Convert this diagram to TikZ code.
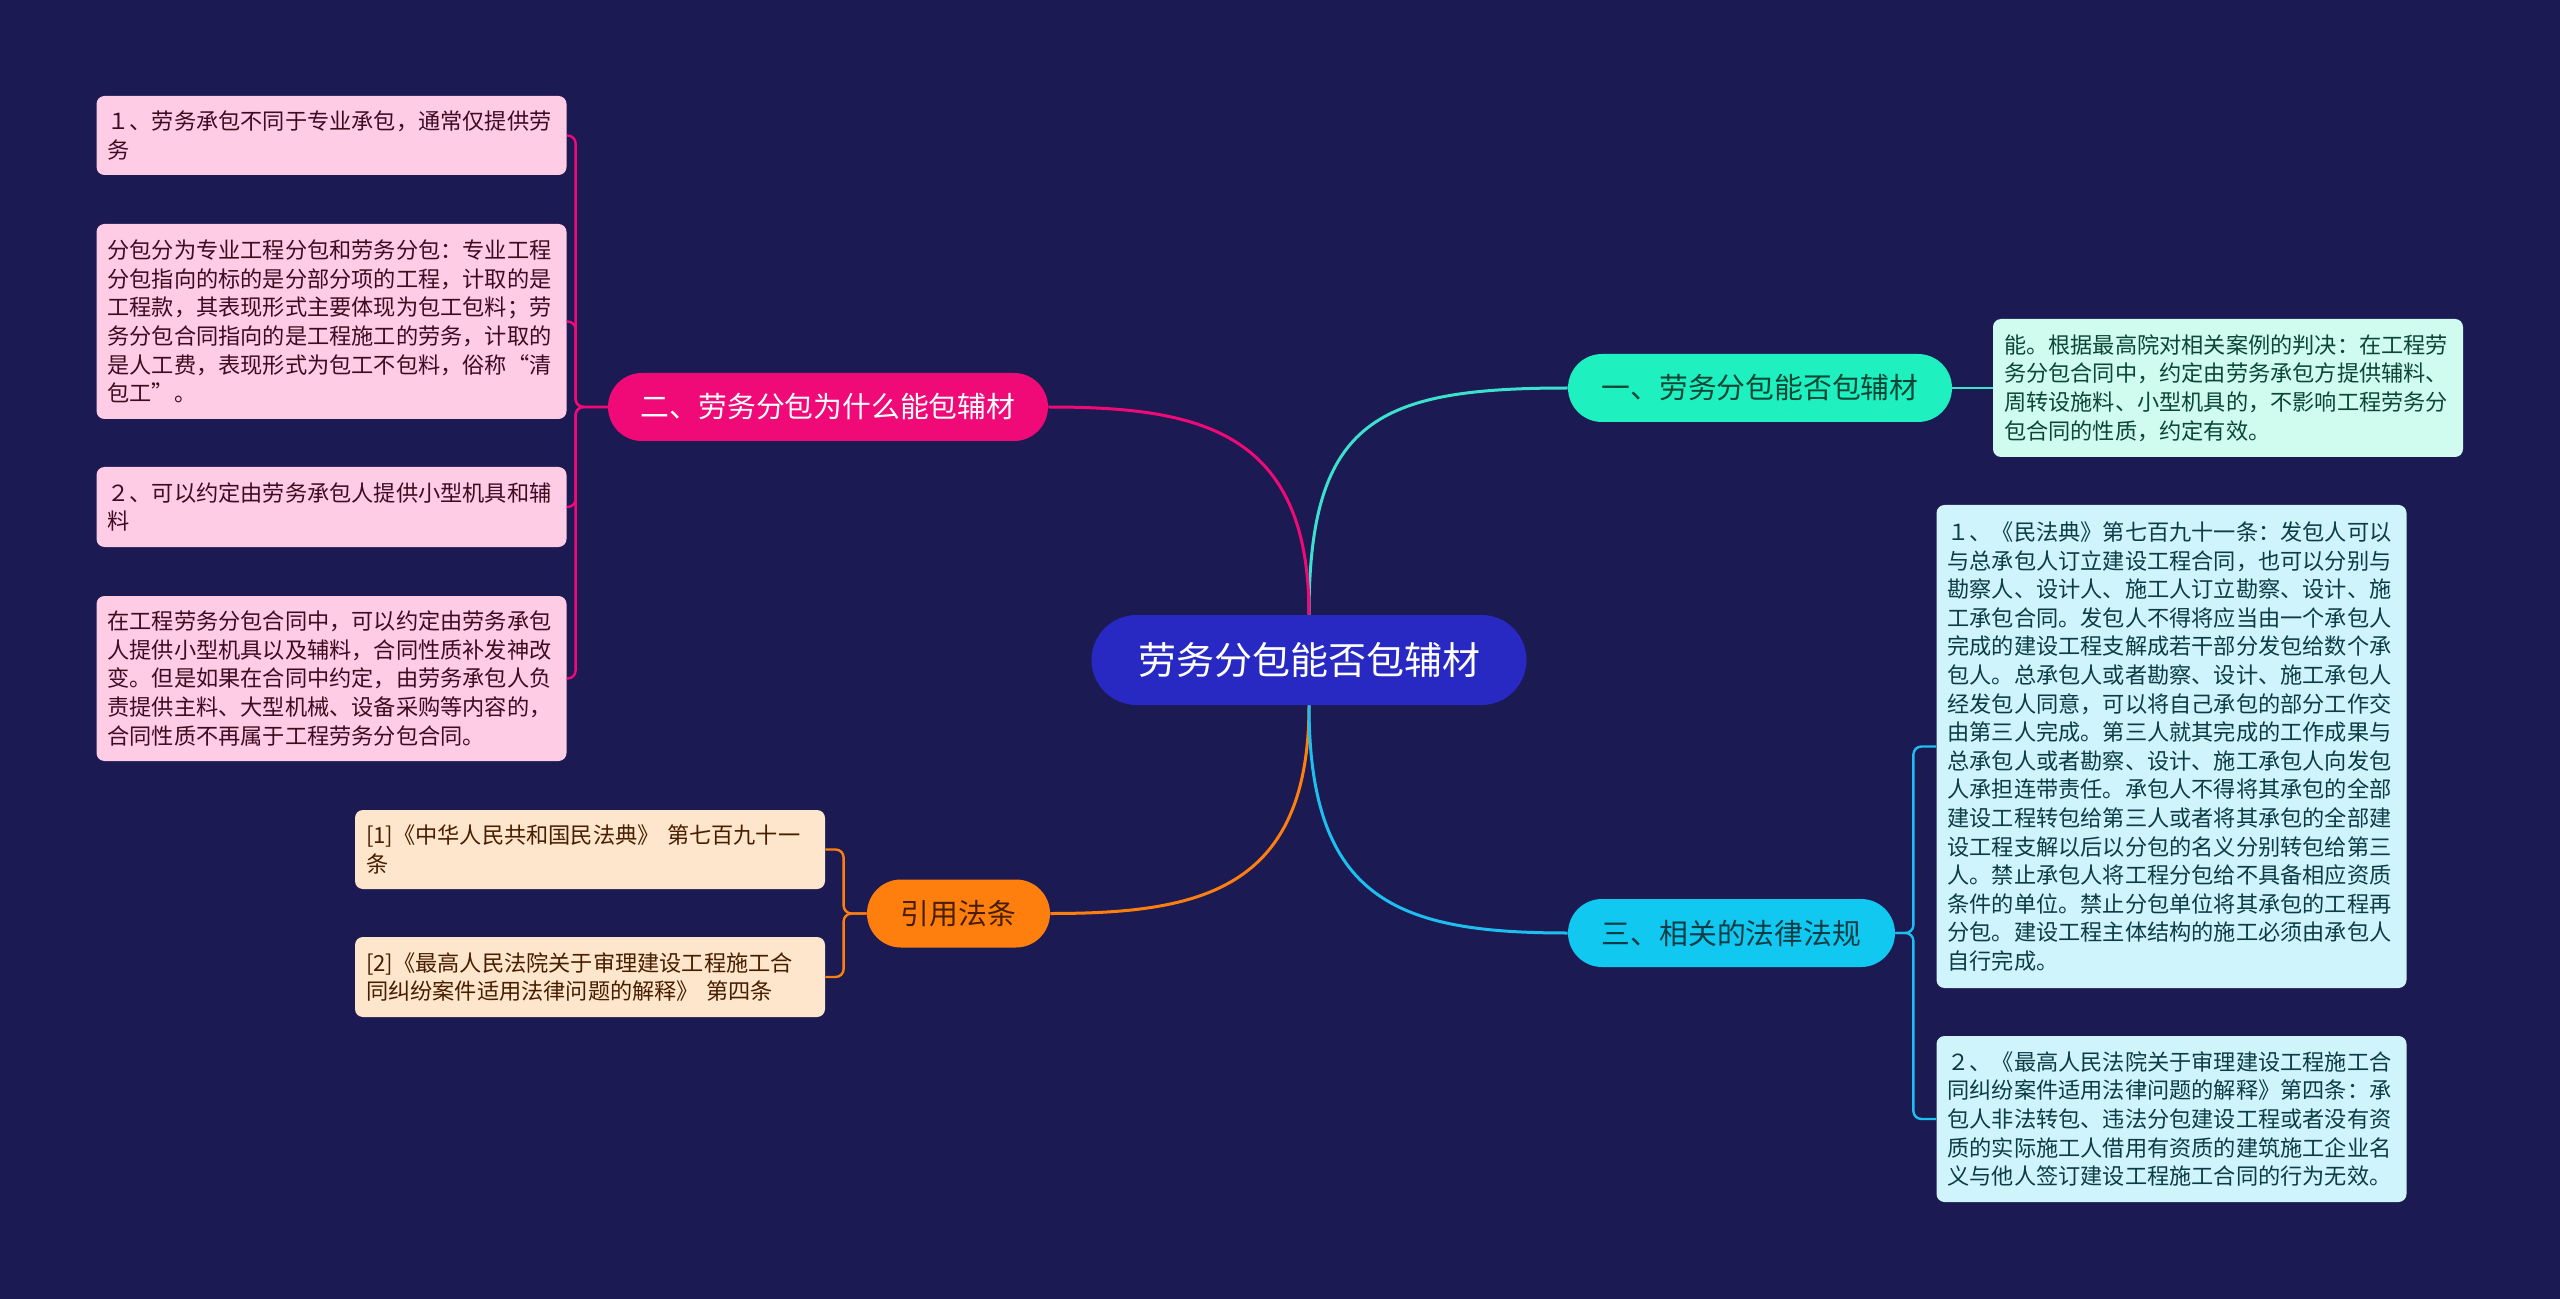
\documentclass[tikz,border=0pt]{standalone}
\usepackage{fontspec}
\setmainfont{Noto Sans CJK SC}
\definecolor{bgc}{RGB}{28,26,82}
\definecolor{rootc}{RGB}{40,40,195}
\definecolor{tealc}{RGB}{30,240,192}
\definecolor{tealleaf}{RGB}{208,252,240}
\definecolor{tealtext}{RGB}{12,70,52}
\definecolor{teallink}{RGB}{60,225,205}
\definecolor{pinkc}{RGB}{240,10,120}
\definecolor{pinkleaf}{RGB}{255,204,229}
\definecolor{pinktext}{RGB}{62,12,32}
\definecolor{cyanc}{RGB}{16,200,240}
\definecolor{cyanleaf}{RGB}{208,244,252}
\definecolor{cyantext}{RGB}{12,60,70}
\definecolor{cyanlink}{RGB}{30,190,240}
\definecolor{orangec}{RGB}{255,127,14}
\definecolor{orangeleaf}{RGB}{253,230,204}
\definecolor{orangetext}{RGB}{72,30,0}
\begin{document}
\begin{tikzpicture}[x=0.5pt,y=-0.5pt,
  rootbox/.style={fill=rootc, text=white, rounded corners=22.5pt, minimum width=217.5pt, minimum height=45pt, inner sep=0pt, font=\fontsize{19pt}{22pt}\selectfont},
  branchbox/.style={rounded corners=17pt, minimum height=34pt, inner sep=0pt, font=\fontsize{14.4pt}{17pt}\selectfont},
  leafbox/.style={rounded corners=4pt, text width=224pt, align=left, inner xsep=5.5pt, inner ysep=0pt, font=\fontsize{11.1pt}{14.3pt}\selectfont},
  mainlink/.style={line width=1.5pt},
  leaflink/.style={line width=1.2pt, rounded corners=4pt}
]
\fill[bgc] (0,0) rectangle (2560,1299);
\useasboundingbox (0,0) rectangle (2560,1299);

% central
\node[rootbox] (c) at (1309,660) {劳务分包能否包辅材};

% branches
\node[branchbox, fill=tealc, text=tealtext, minimum width=192pt] (b1) at (1760,388) {一、劳务分包能否包辅材};
\node[branchbox, fill=pinkc, text=white, minimum width=220pt] (b2) at (828,407) {二、劳务分包为什么能包辅材};
\node[branchbox, fill=cyanc, text=cyantext, minimum width=163.5pt] (b3) at (1731.5,933) {三、相关的法律法规};
\node[branchbox, fill=orangec, text=orangetext, minimum width=91.5pt] (bo) at (958.5,913.5) {引用法条};

% leaves of branch 1
\node[leafbox, fill=tealleaf, text=tealtext, minimum height=69pt] (l1) at (2228,388) {能。根据最高院对相关案例的判决：在工程劳\\务分包合同中，约定由劳务承包方提供辅料、\\周转设施料、小型机具的，不影响工程劳务分\\包合同的性质，约定有效。};

% leaves of branch 2
\node[leafbox, fill=pinkleaf, text=pinktext, minimum height=39.5pt] (l2a) at (331.5,135.5) {１、劳务承包不同于专业承包，通常仅提供劳\\务};
\node[leafbox, fill=pinkleaf, text=pinktext, minimum height=97.5pt] (l2b) at (331.5,321.5) {分包分为专业工程分包和劳务分包：专业工程\\分包指向的标的是分部分项的工程，计取的是\\工程款，其表现形式主要体现为包工包料；劳\\务分包合同指向的是工程施工的劳务，计取的\\是人工费，表现形式为包工不包料，俗称“清\\包工”。};
\node[leafbox, fill=pinkleaf, text=pinktext, minimum height=40pt] (l2c) at (331.5,507) {２、可以约定由劳务承包人提供小型机具和辅\\料};
\node[leafbox, fill=pinkleaf, text=pinktext, minimum height=82.5pt] (l2d) at (331.5,678.5) {在工程劳务分包合同中，可以约定由劳务承包\\人提供小型机具以及辅料，合同性质补发神改\\变。但是如果在合同中约定，由劳务承包人负\\责提供主料、大型机械、设备采购等内容的，\\合同性质不再属于工程劳务分包合同。};

% leaves of branch 3
\node[leafbox, fill=cyanleaf, text=cyantext, minimum height=241.5pt] (l3a) at (2171.5,746.5) {１、《民法典》第七百九十一条：发包人可以\\与总承包人订立建设工程合同，也可以分别与\\勘察人、设计人、施工人订立勘察、设计、施\\工承包合同。发包人不得将应当由一个承包人\\完成的建设工程支解成若干部分发包给数个承\\包人。总承包人或者勘察、设计、施工承包人\\经发包人同意，可以将自己承包的部分工作交\\由第三人完成。第三人就其完成的工作成果与\\总承包人或者勘察、设计、施工承包人向发包\\人承担连带责任。承包人不得将其承包的全部\\建设工程转包给第三人或者将其承包的全部建\\设工程支解以后以分包的名义分别转包给第三\\人。禁止承包人将工程分包给不具备相应资质\\条件的单位。禁止分包单位将其承包的工程再\\分包。建设工程主体结构的施工必须由承包人\\自行完成。};
\node[leafbox, fill=cyanleaf, text=cyantext, minimum height=83pt] (l3b) at (2171.5,1119) {２、《最高人民法院关于审理建设工程施工合\\同纠纷案件适用法律问题的解释》第四条：承\\包人非法转包、违法分包建设工程或者没有资\\质的实际施工人借用有资质的建筑施工企业名\\义与他人签订建设工程施工合同的行为无效。};

% leaves of orange branch
\node[leafbox, fill=orangeleaf, text=orangetext, minimum height=39.5pt] (lo1) at (590,849.5) {[1]《中华人民共和国民法典》 第七百九十一\\条};
\node[leafbox, fill=orangeleaf, text=orangetext, minimum height=40pt] (lo2) at (590,977) {[2]《最高人民法院关于审理建设工程施工合\\同纠纷案件适用法律问题的解释》 第四条};

% main connectors
\draw[mainlink, teallink] (c.north) .. controls +(0,-195) and +(-190,0) .. (b1.west);
\draw[mainlink, pinkc] (c.north) .. controls +(0,-185) and +(150,0) .. (b2.east);
\draw[mainlink, orangec] (c.south) .. controls +(0,185) and +(150,0) .. (bo.east);
\draw[mainlink, cyanlink] (c.south) .. controls +(0,195) and +(-170,0) .. (b3.west);

% leaf connectors
\draw[leaflink, teallink] (b1.east) -- (l1.west);
\draw[leaflink, pinkc] (b2.west) -- ++(-32,0) |- (l2a.east);
\draw[leaflink, pinkc] (b2.west) -- ++(-32,0) |- (l2b.east);
\draw[leaflink, pinkc] (b2.west) -- ++(-32,0) |- (l2c.east);
\draw[leaflink, pinkc] (b2.west) -- ++(-32,0) |- (l2d.east);
\draw[leaflink, cyanlink] (b3.east) -- ++(18,0) |- (l3a.west);
\draw[leaflink, cyanlink] (b3.east) -- ++(18,0) |- (l3b.west);
\draw[leaflink, orangec] (bo.west) -- ++(-23,0) |- (lo1.east);
\draw[leaflink, orangec] (bo.west) -- ++(-23,0) |- (lo2.east);
\end{tikzpicture}
\end{document}
